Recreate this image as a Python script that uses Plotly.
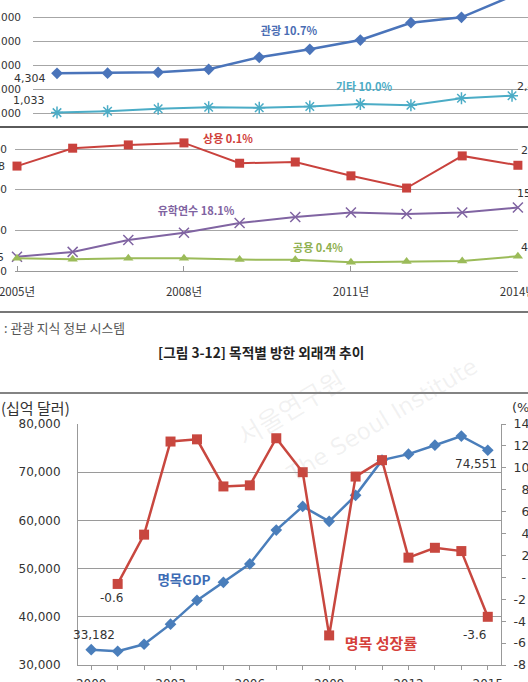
import plotly.graph_objects as go

W, H = 528, 682

# ---------------- data ----------------
# [그림 3-12] 목적별 방한 외래객 추이 (천 명)
years_top = list(range(2005, 2015))
tourism = [4304, 4320, 4390, 4640, 5640, 6310, 7080, 8525, 8975, 10746]
other = [1033, 1150, 1350, 1480, 1440, 1540, 1760, 1650, 2230, 2436]
business = [258, 302, 310, 315, 265, 268, 234, 204, 283, 260]
study = [35, 47, 76, 94, 118, 133, 144, 140, 144, 156]
official = [45, 44.2, 45, 45, 44, 43.8, 42, 42.5, 43, 46.6]
top_ticks = [1000, 3000, 5000, 7000, 9000]
low_ticks = [0, 100, 200, 300]
top_xticks = [2005, 2008, 2011, 2014]
series_names = ["관광 10.7%", "기타 10.0%", "상용 0.1%", "유학연수 18.1%", "공용 0.4%"]

# 명목 GDP (십억 달러) 와 명목 성장률 (%)
years_b = list(range(2000, 2016))
gdp = [33182, 32850, 34300, 38480, 43400, 47150, 50980, 58000, 62900,
       59800, 65200, 72500, 73750, 75600, 77500, 74551]
growth = [None, -0.6, 3.9, 12.4, 12.6, 8.3, 8.4, 12.7, 9.6,
          -5.3, 9.2, 10.7, 1.8, 2.7, 2.4, -3.6]
gdp_ticks = [30000, 40000, 50000, 60000, 70000, 80000]
pct_ticks = list(range(-8, 16, 2))
b_label_years = [2000, 2003, 2006, 2009, 2012, 2015]

KR = "Noto Sans CJK KR"
NUM = "DejaVu Sans"
C_TOUR = "#4a74ba"
C_OTHER = "#4bacc6"
C_BUS = "#c9423d"
C_STUDY = "#8064a2"
C_OFF = "#9bbb59"
C_GDP = "#4a7ebb"
C_GR = "#c8473f"


def xp(p):
    return p / W


def yp(p):
    return 1 - p / H


def pct_label(v):
    if v == 0:
        return "\u2007-"
    s = str(v)
    return s if len(s) >= 2 else "\u2007" + s


fig = go.Figure()

# ---- top panel ----
fig.add_trace(go.Scatter(x=years_top, y=tourism, xaxis="x", yaxis="y", mode="lines+markers",
                         line=dict(color=C_TOUR, width=2.5),
                         marker=dict(symbol="diamond", size=9, color=C_TOUR), cliponaxis=False))
fig.add_trace(go.Scatter(x=years_top, y=other, xaxis="x", yaxis="y", mode="lines+markers",
                         line=dict(color=C_OTHER, width=2),
                         marker=dict(symbol="asterisk-open", size=10, line=dict(color=C_OTHER, width=1.5)),
                         cliponaxis=False))
# ---- lower panel ----
fig.add_trace(go.Scatter(x=years_top, y=business, xaxis="x2", yaxis="y2", mode="lines+markers",
                         line=dict(color=C_BUS, width=2),
                         marker=dict(symbol="square", size=9, color=C_BUS), cliponaxis=False))
fig.add_trace(go.Scatter(x=years_top, y=study, xaxis="x2", yaxis="y2", mode="lines+markers",
                         line=dict(color=C_STUDY, width=2),
                         marker=dict(symbol="x-thin-open", size=10, line=dict(color=C_STUDY, width=1.5)),
                         cliponaxis=False))
fig.add_trace(go.Scatter(x=years_top, y=official, xaxis="x2", yaxis="y3", mode="lines+markers",
                         line=dict(color=C_OFF, width=2),
                         marker=dict(symbol="triangle-up", size=9, color=C_OFF), cliponaxis=False))
# ---- bottom chart ----
fig.add_trace(go.Scatter(x=years_b, y=gdp, xaxis="x3", yaxis="y4", mode="lines+markers",
                         line=dict(color=C_GDP, width=2.5),
                         marker=dict(symbol="diamond", size=9, color=C_GDP), cliponaxis=False))
fig.add_trace(go.Scatter(x=years_b, y=growth, xaxis="x3", yaxis="y5", mode="lines+markers",
                         line=dict(color=C_GR, width=2.5),
                         marker=dict(symbol="square", size=10, color=C_GR), cliponaxis=False))

# ---- text layer in page pixels: coloured series names ----
label_px = [(289, 32), (364, 88), (228, 140), (196, 212), (318, 249)]
label_col = ["#4a6db3", C_OTHER, "#d0403a", "#7f63a1", "#8fb050"]
for (lx, ly), name, col in zip(label_px, series_names, label_col):
    fig.add_trace(go.Scatter(x=[lx], y=[ly], xaxis="x4", yaxis="y6", mode="text", text=[name],
                             textposition="middle center", hoverinfo="skip", cliponaxis=False,
                             textfont=dict(family=KR, size=11, color=col, weight="bold")))
fig.add_trace(go.Scatter(x=[184], y=[582], xaxis="x4", yaxis="y6", mode="text", text=["명목GDP"],
                         textposition="middle center", hoverinfo="skip", cliponaxis=False,
                         textfont=dict(family=KR, size=13.5, color="#3d6cb5", weight="bold")))
fig.add_trace(go.Scatter(x=[381], y=[645], xaxis="x4", yaxis="y6", mode="text", text=["명목 성장률"],
                         textposition="middle center", hoverinfo="skip", cliponaxis=False,
                         textfont=dict(family=KR, size=15, color="#d5403a", weight="bold")))

axis_font = dict(family=NUM, size=10.5, color="#333")

fig.update_layout(
    width=W, height=H, margin=dict(l=0, r=0, t=0, b=0),
    template="none", showlegend=False,
    paper_bgcolor="white", plot_bgcolor="rgba(0,0,0,0)",
    font=dict(family=NUM, color="#333"),
    xaxis=dict(domain=[xp(33), 1], range=[2004.525, 2014.316], visible=False, automargin=False),
    yaxis=dict(domain=[yp(120), 1], range=[416.7, 10416.7], anchor="x",
               tickvals=top_ticks, ticktext=[f"{v:,}" for v in top_ticks],
               tickfont=axis_font, showgrid=True, gridcolor="#a6a6a6", gridwidth=1,
               zeroline=False, showline=False, ticks="", ticklabelstandoff=11,
               ticklabeloverflow="allow", automargin=False),
    xaxis2=dict(domain=[xp(15), xp(518)], range=[2004.964, 2014.002], anchor="y2",
                tickvals=top_xticks, ticktext=[f"{v}년" for v in top_xticks],
                tickfont=dict(family=KR, size=11.5, color="#333"),
                ticks="inside", ticklen=5, tickcolor="#999", showline=True, linecolor="#999",
                showgrid=False, zeroline=False, ticklabelstandoff=10,
                ticklabeloverflow="allow", automargin=False),
    yaxis2=dict(domain=[yp(271), yp(127)], range=[0, 354.1], anchor="x2",
                tickvals=low_ticks, ticktext=[str(v) for v in low_ticks], tickfont=axis_font,
                showgrid=True, gridcolor="#a6a6a6", zeroline=False, showline=False, ticks="",
                ticklabelstandoff=7, ticklabeloverflow="allow", automargin=False),
    yaxis3=dict(overlaying="y2", anchor="x2", range=[35.23, 146.0], visible=False),
    xaxis3=dict(domain=[xp(78), xp(501)], range=[1999.5, 2015.5], anchor="y4",
                tickvals=years_b,
                ticktext=[str(y) if y in b_label_years else "" for y in years_b],
                tickfont=dict(family=NUM, size=12, color="#333"),
                ticks="outside", ticklen=4, tickcolor="#999", showline=True, linecolor="#999",
                showgrid=False, zeroline=False, ticklabelstandoff=4,
                ticklabeloverflow="allow", automargin=False),
    yaxis4=dict(domain=[yp(665), yp(424)], range=[30000, 80000], anchor="x3",
                tickvals=gdp_ticks, ticktext=[f"{v:,}" for v in gdp_ticks],
                tickfont=dict(family=NUM, size=12, color="#333"),
                showgrid=True, gridcolor="#9a9a9a", zeroline=False, showline=True, linecolor="#999",
                ticks="", ticklabelstandoff=14, ticklabeloverflow="allow", automargin=False),
    yaxis5=dict(overlaying="y4", anchor="x3", side="right", range=[-8, 14],
                tickvals=pct_ticks, ticktext=[pct_label(v) for v in pct_ticks],
                tickfont=dict(family=NUM, size=12.5, color="#333"),
                showgrid=False, zeroline=False, showline=True, linecolor="#999",
                ticks="outside", ticklen=4, tickcolor="#999", ticklabelstandoff=5,
                ticklabeloverflow="allow", automargin=False),
    xaxis4=dict(domain=[0, 1], range=[0, W], anchor="y6", visible=False, fixedrange=True),
    yaxis6=dict(domain=[0, 1], range=[H, 0], anchor="x4", visible=False, fixedrange=True),
)

# separator lines of the document
for yy, wdt, col in [(127, 2, "#5a5a5a"), (312, 1.6, "#4a4a4a"), (393, 1.6, "#5a5a5a")]:
    fig.add_shape(type="line", xref="paper", yref="paper", x0=0, x1=1, y0=yp(yy), y1=yp(yy),
                  line=dict(color=col, width=wdt))

ann = []

# watermark
ann.append(dict(xref="paper", yref="paper", x=xp(290), y=yp(406), xanchor="center", yanchor="middle",
                text="서울연구원", showarrow=False, textangle=-31,
                font=dict(family=KR, size=26, color="rgba(150,150,150,0.13)")))
ann.append(dict(xref="paper", yref="paper", x=xp(382), y=yp(420), xanchor="center", yanchor="middle",
                text="The Seoul Institute", showarrow=False, textangle=-31,
                font=dict(family=NUM, size=23, color="rgba(150,150,150,0.13)")))

lab = dict(family=NUM, size=11, color="#333")
# top panel data labels
ann.append(dict(x=years_top[0], y=tourism[0], xref="x", yref="y", text=f"{tourism[0]:,}", showarrow=False,
                xanchor="right", yanchor="middle", xshift=-9, yshift=-5, font=lab))
ann.append(dict(x=years_top[0], y=other[0], xref="x", yref="y", text=f"{other[0]:,}", showarrow=False,
                xanchor="right", yanchor="middle", xshift=-10, yshift=12, font=lab))
ann.append(dict(x=years_top[-1], y=other[-1], xref="x", yref="y", text=f"{other[-1]:,}", showarrow=False,
                xanchor="left", yanchor="middle", xshift=3, yshift=9, font=lab))
# lower panel data labels
ann.append(dict(x=years_top[0], y=business[0], xref="x2", yref="y2", text=f"{business[0]}", showarrow=False,
                xanchor="right", yanchor="middle", xshift=-10, yshift=0, font=lab))
ann.append(dict(x=years_top[0], y=study[0], xref="x2", yref="y2", text=f"{study[0]}", showarrow=False,
                xanchor="right", yanchor="middle", xshift=-11, yshift=-1, font=lab))
ann.append(dict(x=years_top[-1], y=business[-1], xref="x2", yref="y2", text=f"{business[-1]}", showarrow=False,
                xanchor="left", yanchor="middle", xshift=1, yshift=15, font=lab))
ann.append(dict(x=years_top[-1], y=study[-1], xref="x2", yref="y2", text=f"{study[-1]}", showarrow=False,
                xanchor="left", yanchor="middle", xshift=-3, yshift=14, font=lab))
ann.append(dict(x=years_top[-1], y=official[-1], xref="x2", yref="y3", text=f"{round(official[-1])}",
                showarrow=False, xanchor="left", yanchor="middle", xshift=1, yshift=9, font=lab))

# source and caption
ann.append(dict(xref="paper", yref="paper", x=xp(2), y=yp(327), xanchor="left", yanchor="middle",
                showarrow=False, text=": 관광 지식 정보 시스템", font=dict(family=KR, size=12.8, color="#555")))
ann.append(dict(xref="paper", yref="paper", x=xp(261), y=yp(352), xanchor="center", yanchor="middle",
                showarrow=False, text="<b>[그림 3-12] 목적별 방한 외래객 추이</b>",
                font=dict(family=KR, size=13.7, color="#222")))

# bottom chart units
ann.append(dict(xref="paper", yref="paper", x=xp(72), y=yp(407), xanchor="right", yanchor="middle",
                showarrow=False, text="(십억 달러)", font=dict(family=KR, size=15, color="#333")))
ann.append(dict(xref="paper", yref="paper", x=xp(510), y=yp(407), xanchor="left", yanchor="middle",
                showarrow=False, text="(%)", font=dict(family=NUM, size=13, color="#333")))

# bottom chart data labels
blab = dict(family=NUM, size=12, color="#333")
ann.append(dict(x=years_b[0], y=gdp[0], xref="x3", yref="y4", text=f"{gdp[0]:,}", showarrow=False,
                xanchor="center", yanchor="middle", xshift=3, yshift=15, font=blab))
ann.append(dict(x=years_b[-1], y=gdp[-1], xref="x3", yref="y4", text=f"{gdp[-1]:,}", showarrow=False,
                xanchor="center", yanchor="middle", xshift=-12, yshift=-14, font=blab))
ann.append(dict(x=years_b[1], y=growth[1], xref="x3", yref="y5", text=f"{growth[1]}", showarrow=False,
                xanchor="center", yanchor="middle", xshift=-6, yshift=-14, font=blab))
ann.append(dict(x=years_b[-1], y=growth[-1], xref="x3", yref="y5", text=f"{growth[-1]}", showarrow=False,
                xanchor="center", yanchor="middle", xshift=-13, yshift=-18, font=blab))

fig.update_layout(annotations=ann)

fig.write_html("out.html")
